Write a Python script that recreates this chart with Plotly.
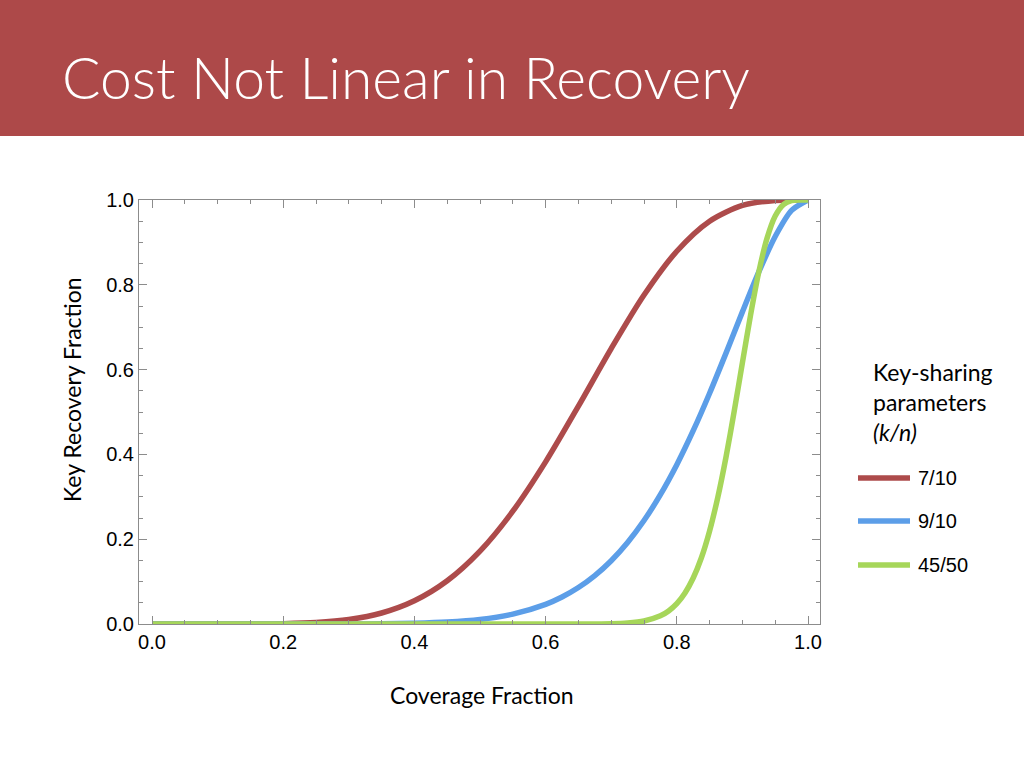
import plotly.graph_objects as go

# ---- data ----
x_7_10 = [0.0, 0.05, 0.10, 0.15, 0.20, 0.25, 0.30, 0.35, 0.40, 0.45, 0.50,
          0.55, 0.60, 0.65, 0.70, 0.75, 0.80, 0.85, 0.90, 0.95, 1.0]
y_7_10 = [0.0, 0.0, 0.00001, 0.00014, 0.00086, 0.0035, 0.0106, 0.0260, 0.0548, 0.1020, 0.1719,
          0.2660, 0.3823, 0.5138, 0.6496, 0.7759, 0.8791, 0.9500, 0.9872, 0.9990, 1.0]

x_9_10 = [0.0, 0.05, 0.10, 0.15, 0.20, 0.25, 0.30, 0.35, 0.40, 0.45, 0.50, 0.55, 0.60,
          0.625, 0.65, 0.675, 0.70, 0.725, 0.75, 0.775, 0.80, 0.825, 0.85, 0.875,
          0.90, 0.925, 0.95, 0.975, 1.0]
y_9_10 = [0.0, 0.0, 0.0, 0.0, 0.0, 0.0, 0.0001, 0.0005, 0.0017, 0.0045, 0.0107, 0.0233, 0.0464,
          0.0637, 0.0860, 0.1142, 0.1493, 0.1923, 0.2440, 0.3051, 0.3758, 0.4559, 0.5443, 0.6389,
          0.7361, 0.8304, 0.9139, 0.9754, 1.0]

x_45_50 = [0.0, 0.10, 0.20, 0.30, 0.40, 0.50, 0.60, 0.65, 0.70, 0.725, 0.75, 0.775, 0.7875,
           0.80, 0.8125, 0.825, 0.8375, 0.85, 0.8625, 0.875, 0.8875, 0.90, 0.9125, 0.925,
           0.9375, 0.95, 0.9625, 0.975, 0.9875, 1.0]
y_45_50 = [0.0, 0.0, 0.0, 0.0, 0.0, 0.0, 0.0, 0.0001, 0.0007, 0.0024, 0.0071, 0.0193, 0.0308,
           0.0481, 0.0732, 0.1084, 0.1563, 0.2195, 0.2988, 0.3936, 0.5016, 0.6161, 0.7291, 0.8302,
           0.9096, 0.9622, 0.9893, 0.9985, 0.9999, 1.0]

series_names = ["7/10", "9/10", "45/50"]
series_colors = ["#ad4b4b", "#5c9ee8", "#a6d65a"]

x_ticks = [0.0, 0.2, 0.4, 0.6, 0.8, 1.0]
x_tick_text = ["0.0", "0.2", "0.4", "0.6", "0.8", "1.0"]
y_ticks = [0.0, 0.2, 0.4, 0.6, 0.8, 1.0]
y_tick_text = ["0.0", "0.2", "0.4", "0.6", "0.8", "1.0"]

# ---- layout geometry (pixels) ----
W, H = 1024, 768
L, R, T, B = 139, 820, 200, 624
PW, PH = R - L, B - T


def px(xp):
    return (xp - L) / PW


def py(yp):
    return (B - yp) / PH


fig = go.Figure()
for xs, ys, name, col in zip([x_7_10, x_9_10, x_45_50], [y_7_10, y_9_10, y_45_50],
                             series_names, series_colors):
    fig.add_trace(go.Scatter(x=xs, y=ys, mode="lines", name=name,
                             line=dict(color=col, width=5.5, shape="spline", smoothing=0.8),
                             showlegend=False))

axis_common = dict(
    showline=True, linecolor="#8c8c8c", linewidth=1, mirror="allticks",
    ticks="inside", ticklen=8, tickcolor="#8c8c8c", tickwidth=1,
    showgrid=False, zeroline=False,
    tickfont=dict(family="Liberation Sans, Arial, sans-serif", size=20, color="#000"),
    minor=dict(ticks="inside", ticklen=4, dtick=0.05, tickcolor="#8c8c8c", showgrid=False),
)

fig.update_xaxes(range=[-13 / 656, 1 + 12 / 656], tickvals=x_ticks, ticktext=x_tick_text,
                 **axis_common)
fig.update_yaxes(range=[0, 1], tickvals=y_ticks, ticktext=y_tick_text, **axis_common)

shapes = []
annotations = []

# banner
shapes.append(dict(type="rect", xref="paper", yref="paper", x0=px(-5), x1=px(W + 5),
                   y0=py(136), y1=py(-5), fillcolor="#ad4949", line=dict(width=0), layer="below"))
annotations.append(dict(text="Cost Not Linear in Recovery", xref="paper", yref="paper",
                        x=px(60), y=py(77), xanchor="left", yanchor="middle", showarrow=False,
                        font=dict(family="Lato, Open Sans, sans-serif", size=57, color="white",
                                  weight=300)))

# axis titles
annotations.append(dict(text="Coverage Fraction", xref="paper", yref="paper",
                        x=px(482), y=py(695), xanchor="center", yanchor="middle", showarrow=False,
                        font=dict(family="Lato, sans-serif", size=23, color="#000")))
annotations.append(dict(text="Key Recovery Fraction", xref="paper", yref="paper",
                        x=px(72), y=py(390), xanchor="center", yanchor="middle", showarrow=False,
                        textangle=-90,
                        font=dict(family="Lato, sans-serif", size=23, color="#000")))

# legend (drawn manually)
annotations.append(dict(text="Key-sharing<br>parameters<br><i>(k/n)</i>", xref="paper", yref="paper",
                        x=px(871), y=py(402), xanchor="left", yanchor="middle", align="left",
                        showarrow=False,
                        font=dict(family="Lato, sans-serif", size=23, color="#000")))
leg_y = [478, 521, 565]
for yy, name, col in zip(leg_y, series_names, series_colors):
    shapes.append(dict(type="line", xref="paper", yref="paper", x0=px(858), x1=px(910),
                       y0=py(yy), y1=py(yy), line=dict(color=col, width=5.5)))
    annotations.append(dict(text=name, xref="paper", yref="paper", x=px(916), y=py(yy),
                            xanchor="left", yanchor="middle", showarrow=False,
                            font=dict(family="Liberation Sans, Arial, sans-serif", size=20,
                                      color="#000")))

fig.update_layout(
    width=W, height=H, autosize=False,
    margin=dict(l=L, r=W - R, t=T, b=H - B, pad=0),
    paper_bgcolor="white", plot_bgcolor="white",
    shapes=shapes, annotations=annotations, showlegend=False,
)

fig.write_html("out.html", config={"displayModeBar": False},
               post_script="document.body.style.margin='0';document.body.style.overflow='hidden';")
